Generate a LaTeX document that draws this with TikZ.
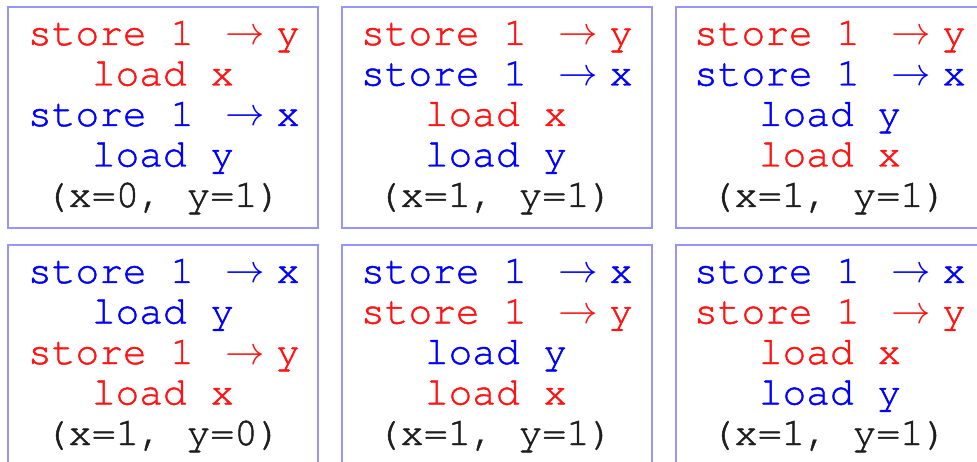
\RequirePackage{fix-cm}
\documentclass[tikz,border=0pt]{standalone}
\usepackage{fontspec}
\newfontfamily\monofont[FakeBold=1.2]{TeX Gyre Cursor}
\definecolor{boxblue}{RGB}{150,150,250}
\definecolor{codered}{RGB}{255,20,20}
\definecolor{codeblue}{RGB}{20,20,255}
\definecolor{codeblack}{RGB}{30,30,30}
\newcommand\arr{\hspace{0.2em}$\rightarrow$\hspace{0.28em}}
\begin{document}
\begin{tikzpicture}[x=1pt,y=-1pt,
  pane/.style={draw=boxblue,line width=2pt,minimum width=310pt,minimum height=221pt,inner sep=0pt},
  codeline/.style={anchor=base,inner sep=0pt,font=\monofont\fontsize{39.5}{41}\selectfont},
  rd/.style={codeline,text=codered},
  bl/.style={codeline,text=blue},
  bk/.style={codeline,text=codeblack}]
\useasboundingbox (0,0) rectangle (977,462);
% boxes
\node[pane] (b1) at (163,117.5) {};
\node[pane] (b2) at (497,117.5) {};
\node[pane] (b3) at (831,117.5) {};
\node[pane] (b4) at (163,355.5) {};
\node[pane] (b5) at (497,355.5) {};
\node[pane] (b6) at (831,355.5) {};
% box 1
\node[rd] (b1a) at (164,45)  {store 1 \arr y};
\node[rd] (b1b) at (163,85.5) {load x};
\node[bl] (b1c) at (164,126) {store 1 \arr x};
\node[bl] (b1d) at (163,166.5) {load y};
\node[bk] (b1e) at (163,207) {(x=0, y=1)};
% box 2
\node[rd] (b2a) at (497,45)  {store 1 \arr y};
\node[bl] (b2b) at (497,85.5) {store 1 \arr x};
\node[rd] (b2c) at (496,126) {load x};
\node[bl] (b2d) at (496,166.5) {load y};
\node[bk] (b2e) at (495,207) {(x=1, y=1)};
% box 3
\node[rd] (b3a) at (830,45)  {store 1 \arr y};
\node[bl] (b3b) at (830,85.5) {store 1 \arr x};
\node[bl] (b3c) at (830,126) {load y};
\node[rd] (b3d) at (830,166.5) {load x};
\node[bk] (b3e) at (829,207) {(x=1, y=1)};
% box 4
\node[bl] (b4a) at (164,283)  {store 1 \arr x};
\node[bl] (b4b) at (163,323.5) {load y};
\node[rd] (b4c) at (164,364) {store 1 \arr y};
\node[rd] (b4d) at (163,404.5) {load x};
\node[bk] (b4e) at (163,445) {(x=1, y=0)};
% box 5
\node[bl] (b5a) at (497,283)  {store 1 \arr x};
\node[rd] (b5b) at (497,323.5) {store 1 \arr y};
\node[bl] (b5c) at (496,364) {load y};
\node[rd] (b5d) at (496,404.5) {load x};
\node[bk] (b5e) at (495,445) {(x=1, y=1)};
% box 6
\node[bl] (b6a) at (830,283)  {store 1 \arr x};
\node[rd] (b6b) at (830,323.5) {store 1 \arr y};
\node[rd] (b6c) at (830,364) {load x};
\node[bl] (b6d) at (830,404.5) {load y};
\node[bk] (b6e) at (829,445) {(x=1, y=1)};
\end{tikzpicture}
\end{document}
